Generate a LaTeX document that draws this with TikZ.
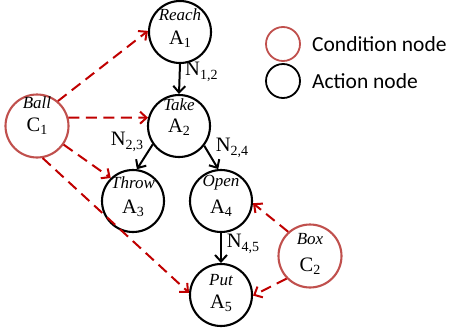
\documentclass[tikz,border=0pt]{standalone}
\usepackage{fontspec}
\setmainfont{Liberation Serif}
\newfontfamily\legendfont{Carlito}
\usetikzlibrary{arrows.meta}
\definecolor{condred}{RGB}{192,80,77}
\definecolor{arrred}{RGB}{192,0,0}
\newcommand\mysub[1]{\raisebox{-0.35ex}{\fontsize{14}{14}\selectfont #1}}
\tikzset{
  actnode/.style={circle, draw=black, line width=2.1pt, minimum size=62pt, inner sep=0pt},
  condnode/.style={circle, draw=condred, line width=2.1pt, minimum size=63pt, inner sep=0pt},
  namelbl/.style={font=\fontsize{17}{17}\selectfont\itshape, inner sep=0pt},
  symlbl/.style={font=\fontsize{20.5}{20.5}\selectfont, inner sep=0pt},
  nlbl/.style={font=\fontsize{20.5}{20.5}\selectfont, inner sep=0pt},
  blackarrow/.style={line width=2pt, -{Straight Barb[length=6.5pt,width=12pt,line width=2pt]}},
  redarrow/.style={draw=arrred, line width=2pt, dash pattern=on 11pt off 6.5pt, -{Straight Barb[length=6.5pt,width=12pt,line width=2pt]}},
  legcircle/.style={circle, line width=1.8pt, minimum size=34pt, inner sep=0pt},
  legtext/.style={font=\legendfont\fontsize{21.5}{21.5}\selectfont, anchor=west, inner sep=0pt},
}
\begin{document}
\begin{tikzpicture}[x=1pt,y=-1pt]
\useasboundingbox (0,0) rectangle (452,335);
% nodes
\node[actnode] (a1) at (180,32) {};
\node[actnode] (a2) at (179,126) {};
\node[actnode] (a3) at (133,201) {};
\node[actnode] (a4) at (221,201) {};
\node[actnode] (a5) at (221,295) {};
\node[condnode] (c1) at (37,126) {};
\node[condnode] (c2) at (310,256) {};
% texts
\node[namelbl] (t1) at ([yshift=17pt]a1.center) {Reach};
\node[symlbl] (s1) at ([yshift=-7pt]a1.center) {A\mysub{1}};
\node[namelbl] (t2) at ([yshift=21pt]a2.center) {Take};
\node[symlbl] (s2) at ([yshift=-1pt]a2.center) {A\mysub{2}};
\node[namelbl] (t3) at ([yshift=18pt]a3.center) {Throw};
\node[symlbl] (s3) at ([yshift=-7pt]a3.center) {A\mysub{3}};
\node[namelbl] (t4) at ([yshift=18pt]a4.center) {Open};
\node[symlbl] (s4) at ([yshift=-7pt]a4.center) {A\mysub{4}};
\node[namelbl] (t5) at ([yshift=15pt]a5.center) {Put};
\node[symlbl] (s5) at ([yshift=-8pt]a5.center) {A\mysub{5}};
\node[namelbl] (tc1) at ([yshift=23pt]c1.center) {Ball};
\node[symlbl] (sc1) at ([yshift=0pt]c1.center) {C\mysub{1}};
\node[namelbl] (tc2) at ([yshift=17pt]c2.center) {Box};
\node[symlbl] (sc2) at ([yshift=-10pt]c2.center) {C\mysub{2}};
% black arrows
\draw[blackarrow] (a1.south) -- (a2.north);
\draw[blackarrow] (a2.215) -- (a3.83);
\draw[blackarrow] (a2.-38) -- (a4.95);
\draw[blackarrow] (a4.south) -- (a5.north);
% labels
\node[nlbl, anchor=west] (n12) at (185,72) {N\mysub{1,2}};
\node[nlbl] (n23) at (127,142) {N\mysub{2,3}};
\node[nlbl] (n24) at (232,148) {N\mysub{2,4}};
\node[nlbl] (n45) at (243,244) {N\mysub{4,5}};
% red dashed arrows
\draw[redarrow] (c1.50) -- (a1.178);
\draw[redarrow] (c1.15) -- (a2.165);
\draw[redarrow] (c1.-35) -- (a3.134);
\draw[redarrow] (c1.-80) -- (a5.176);
\draw[redarrow] (c2.132) -- (a4.-4);
\draw[redarrow] (c2.224) -- (a5.-1);
% legend
\node[legcircle, draw=condred] (lc) at (283,44) {};
\node[legcircle, draw=black] (la) at (283,81) {};
\node[legtext] (lct) at (312,44) {Condition node};
\node[legtext] (lat) at (312,81) {Action node};
\end{tikzpicture}
\end{document}
